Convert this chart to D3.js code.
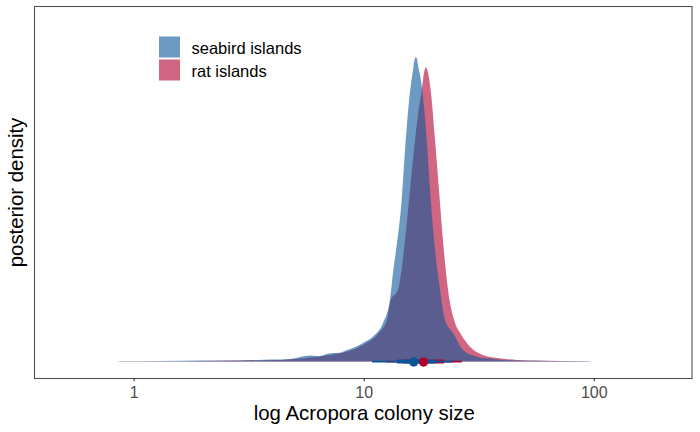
<!DOCTYPE html>
<html>
<head>
<meta charset="utf-8">
<script src="https://cdn.jsdelivr.net/npm/d3@7"></script>
<style>
  html, body { margin: 0; padding: 0; background: #fff; }
  text { font-family: "Liberation Sans", Arial, Helvetica, sans-serif; }
</style>
</head>
<body>
<svg id="chart" width="700" height="432"></svg>
<script>
// ---- data ----
const groups = ["seabird islands", "rat islands"];

const seabirdSize = [0.85, 1.3, 1.94, 2.6, 3.2, 4.0, 4.78, 5.84, 6.4, 7.13, 7.88, 8.46, 8.98, 9.93, 10.97, 12.13, 13.0, 13.45, 13.82, 14.62, 15.13, 15.75, 16.38, 16.6, 16.83, 17.05, 17.22, 17.75, 18.29, 18.79, 19.43, 20.22, 21.47, 22.56, 24.44, 27.0, 31.0, 35, 40.3, 50, 64.6, 80, 96.4];
const seabirdDensity = [0.001, 0.002, 0.003, 0.003, 0.004, 0.006, 0.008, 0.018, 0.016, 0.025, 0.026, 0.034, 0.04, 0.055, 0.074, 0.114, 0.182, 0.271, 0.33, 0.478, 0.626, 0.773, 0.862, 0.89, 0.9, 0.895, 0.877, 0.83, 0.753, 0.655, 0.507, 0.36, 0.212, 0.123, 0.085, 0.034, 0.0145, 0.009, 0.005, 0.003, 0.002, 0.0015, 0.001];

const ratSize = [0.87, 1.3, 1.94, 2.8, 4.33, 5.5, 7.13, 8.5, 9.93, 11.64, 12.62, 13.1, 14.09, 15.13, 15.89, 16.71, 17.3, 17.87, 18.3, 18.62, 18.95, 19.55, 20.42, 21.25, 22.1, 23.26, 24.72, 26.5, 28.97, 33.0, 38.0, 46.4, 57, 71.3, 96.4];
const ratDensity = [0.001, 0.001, 0.002, 0.003, 0.005, 0.01, 0.0195, 0.03, 0.049, 0.085, 0.123, 0.182, 0.212, 0.36, 0.507, 0.655, 0.74, 0.803, 0.855, 0.87, 0.86, 0.803, 0.655, 0.507, 0.36, 0.212, 0.123, 0.08, 0.044, 0.0195, 0.0106, 0.005, 0.003, 0.002, 0.001];

// point estimate, 66% and 95% intervals
const seabirdInterval = { point: 16.5, thick: [13.95, 20.4], thin: [10.87, 24.4] };
const ratInterval = { point: 18.2, thick: [14.8, 22.3], thin: [12.5, 26.7] };

const xTicks = [1, 10, 100];
const colors = { seabird: "#0a569b", rat: "#b0002d" };

// ---- layout ----
const svg = d3.select("#chart");
const panel = { left: 34.5, right: 692, top: 6.5, bottom: 378.5 };

const x = d3.scaleLog()
  .domain([Math.pow(10, -0.431), Math.pow(10, 2.427)])
  .range([panel.left, panel.right]);
const y = d3.scaleLinear()
  .domain([-0.05, 1.05])
  .range([panel.bottom, panel.top]);

const area = d3.area()
  .x(d => x(d[0]))
  .y0(y(0))
  .y1(d => y(d[1]))
  .curve(d3.curveMonotoneX);

const ratData = d3.zip(ratSize, ratDensity);
const seabirdData = d3.zip(seabirdSize, seabirdDensity);

const plot = svg.append("g");

// slabs (rat below, seabird on top)
plot.append("path").datum(ratData)
  .attr("d", area).attr("fill", colors.rat).attr("fill-opacity", 0.6);
plot.append("path").datum(seabirdData)
  .attr("d", area).attr("fill", colors.seabird).attr("fill-opacity", 0.6);

// intervals
function drawInterval(iv, col) {
  plot.append("line")
    .attr("x1", x(iv.thin[0])).attr("x2", x(iv.thin[1]))
    .attr("y1", y(0)).attr("y2", y(0))
    .attr("stroke", col).attr("stroke-width", 1.7);
  plot.append("line")
    .attr("x1", x(iv.thick[0])).attr("x2", x(iv.thick[1]))
    .attr("y1", y(0)).attr("y2", y(0))
    .attr("stroke", col).attr("stroke-width", 4);
}
drawInterval(ratInterval, colors.rat);
drawInterval(seabirdInterval, colors.seabird);
plot.append("circle").attr("cx", x(seabirdInterval.point)).attr("cy", y(0) + 0.5)
  .attr("r", 4.6).attr("fill", colors.seabird);
plot.append("circle").attr("cx", x(ratInterval.point)).attr("cy", y(0) + 0.5)
  .attr("r", 4.6).attr("fill", colors.rat);

// panel border
svg.append("rect")
  .attr("x", panel.left).attr("y", panel.top)
  .attr("width", panel.right - panel.left).attr("height", panel.bottom - panel.top)
  .attr("fill", "none").attr("stroke", "#4d4d4d").attr("stroke-width", 1.07);

// x axis
const xAxis = d3.axisBottom(x).tickValues(xTicks).tickFormat(d3.format("d"))
  .tickSize(2.75).tickPadding(4);
const gx = svg.append("g").attr("transform", `translate(0,${panel.bottom})`).call(xAxis);
gx.select(".domain").remove();
gx.selectAll(".tick line").attr("stroke", "#333333").attr("stroke-width", 1.07);
gx.selectAll(".tick text")
  .attr("fill", "#4d4d4d")
  .attr("font-size", "16px")
  .attr("font-family", "'Liberation Sans', Arial, sans-serif")
  .attr("dy", null).attr("y", 19);

// axis titles
svg.append("text")
  .attr("x", (panel.left + panel.right) / 2 + 1).attr("y", 419.5)
  .attr("text-anchor", "middle").attr("font-size", "20.4px").attr("fill", "#000")
  .text("log Acropora colony size");
svg.append("text")
  .attr("transform", `translate(22.5,${(panel.top + panel.bottom) / 2}) rotate(-90)`)
  .attr("text-anchor", "middle").attr("font-size", "20.4px").attr("fill", "#000")
  .text("posterior density");

// legend
const legend = svg.append("g").attr("transform", "translate(159,36.5)");
const legendColors = [colors.seabird, colors.rat];
groups.forEach((g, i) => {
  const row = legend.append("g").attr("transform", `translate(0,${i * 23})`);
  row.append("rect").attr("width", 21).attr("height", 21)
    .attr("fill", "#fff");
  row.append("rect").attr("width", 21).attr("height", 21)
    .attr("fill", legendColors[i]).attr("fill-opacity", 0.6);
  row.append("text").attr("x", 32.5).attr("y", 17)
    .attr("font-size", "16.5px").attr("fill", "#000").text(g);
});
</script>
</body>
</html>
